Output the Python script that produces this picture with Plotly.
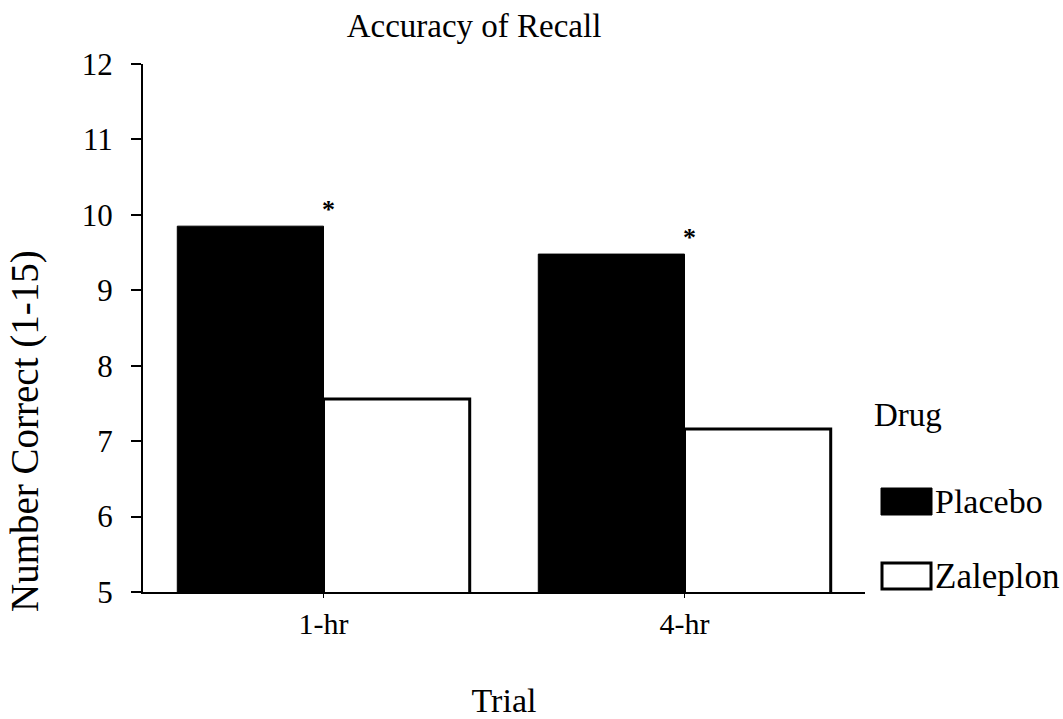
import plotly.graph_objects as go

trials = ["1-hr", "4-hr"]
placebo = [9.85, 9.48]
zaleplon = [7.56, 7.16]
y_ticks = [5, 6, 7, 8, 9, 10, 11, 12]

FONT = "Liberation Serif, Times New Roman, serif"

fig = go.Figure()
fig.add_trace(go.Bar(
    name="Placebo", x=trials, y=placebo,
    marker=dict(color="black", line=dict(color="black", width=1)),
    showlegend=False,
))
fig.add_trace(go.Bar(
    name="Zaleplon", x=trials, y=zaleplon,
    marker=dict(color="white", line=dict(color="black", width=3)),
    showlegend=False,
))

# significance asterisks above placebo bars
for i, v in enumerate(placebo):
    fig.add_annotation(x=i + 0.015, y=v, xref="x", yref="y", text="<b>*</b>",
                       showarrow=False, yshift=17,
                       font=dict(family=FONT, size=26, color="black"))

# manual legend
L, T = 143, 64
W, H = 722, 528
def px(x):
    return (x - L) / W
def py(y):
    return (T + H - y) / H

fig.add_annotation(x=px(872), y=py(415), xref="paper", yref="paper", text="Drug",
                   showarrow=False, xanchor="left", yanchor="middle",
                   font=dict(family=FONT, size=33, color="black"))
fig.add_shape(type="rect", xref="paper", yref="paper",
              x0=px(881), x1=px(932), y0=py(515), y1=py(488),
              fillcolor="black", line=dict(color="black", width=1))
fig.add_annotation(x=px(933), y=py(501), xref="paper", yref="paper", text="Placebo",
                   showarrow=False, xanchor="left", yanchor="middle",
                   font=dict(family=FONT, size=34, color="black"))
fig.add_shape(type="rect", xref="paper", yref="paper",
              x0=px(882), x1=px(931), y0=py(589), y1=py(563),
              fillcolor="white", line=dict(color="black", width=3))
fig.add_annotation(x=px(933), y=py(576), xref="paper", yref="paper", text="Zaleplon",
                   showarrow=False, xanchor="left", yanchor="middle",
                   font=dict(family=FONT, size=35, color="black"))

# y axis title (placed lower than the axis centre, as in the reference)
fig.add_annotation(x=px(25), y=py(431), xref="paper", yref="paper",
                   text="Number Correct (1-15)", textangle=-90,
                   showarrow=False, xanchor="center", yanchor="middle",
                   font=dict(family=FONT, size=39, color="black"))

fig.update_layout(
    width=1063, height=719,
    margin=dict(l=L, r=1063 - L - W, t=T, b=719 - T - H, autoexpand=False),
    paper_bgcolor="white", plot_bgcolor="white",
    barmode="group", bargap=0.19, bargroupgap=0,
    font=dict(family=FONT, size=30, color="black"),
    title=dict(text="Accuracy of Recall", x=px(474), xref="paper", xanchor="center",
               y=1 - 25 / 719, yref="container", yanchor="middle",
               font=dict(family=FONT, size=33, color="black")),
)
fig.update_xaxes(
    type="category", range=[-0.5, 1.5],
    showline=True, linecolor="black", linewidth=2,
    ticks="outside", ticklen=4, tickcolor="black",
    showgrid=False, zeroline=False,
    tickfont=dict(family=FONT, size=30, color="black"),
    title=dict(text="Trial", standoff=56, font=dict(family=FONT, size=34, color="black")),
    automargin=False,
)
fig.update_yaxes(
    range=[5, 12], tickvals=y_ticks,
    showline=True, linecolor="black", linewidth=2,
    ticks="outside", ticklen=10, tickcolor="black", tickwidth=2,
    ticklabelstandoff=12,
    showgrid=False, zeroline=False,
    tickfont=dict(family=FONT, size=31, color="black"),
    automargin=False,
)

fig.write_html("out.html")
